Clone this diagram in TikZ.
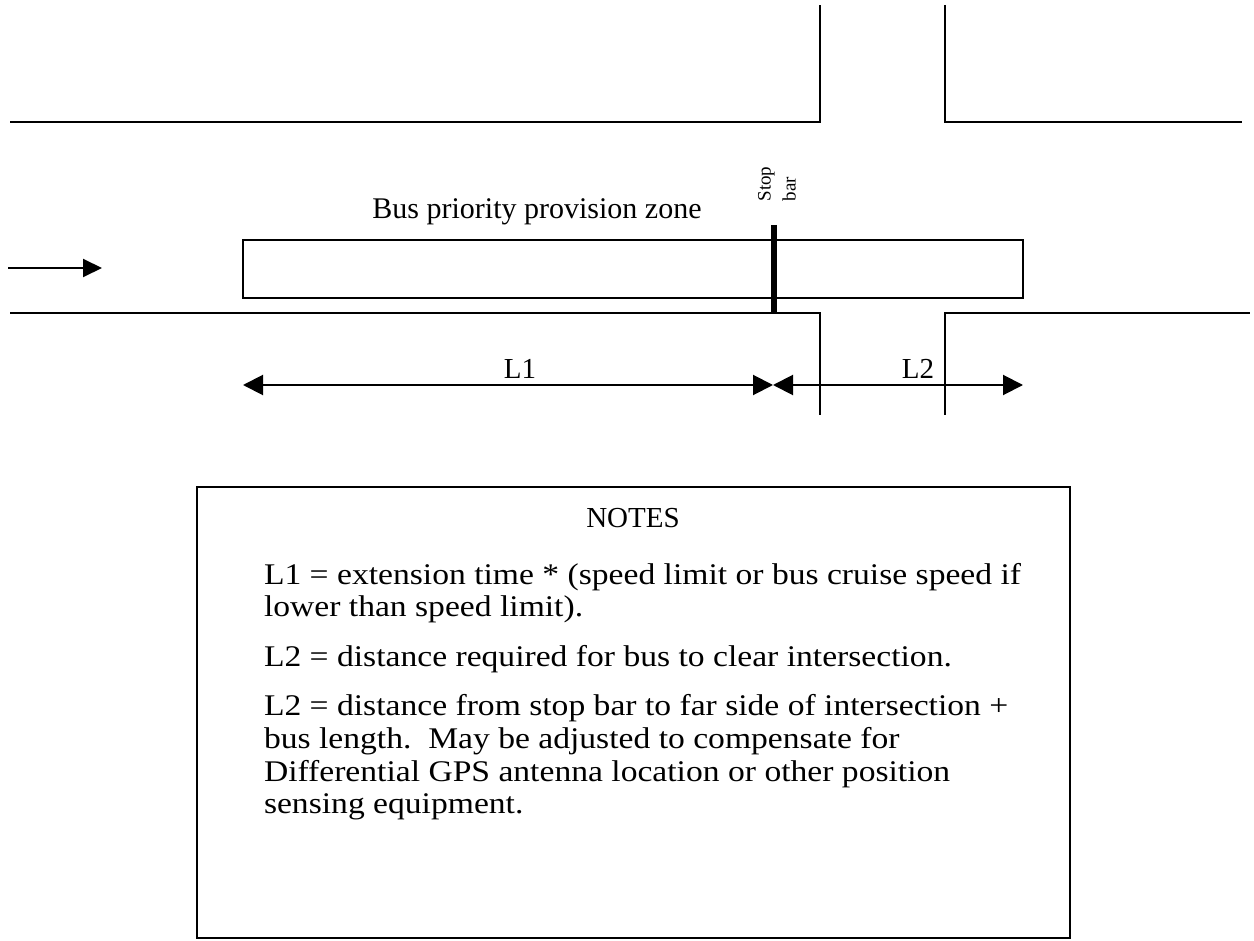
\documentclass[tikz,border=0pt]{standalone}
\usepackage{fontspec}
\setmainfont{Liberation Serif}
\newfontfamily\wideserif[FakeStretch=1.12]{Liberation Serif}
\usetikzlibrary{arrows.meta}
\definecolor{planink}{HTML}{000000}
\definecolor{planpaper}{HTML}{FFFFFF}
\newcommand{\plantext}{\fontsize{14.5}{16}\selectfont}
\newcommand{\notestext}{\wideserif\fontsize{15}{16.3}\selectfont}
\newcommand{\bartext}{\fontsize{9.5}{12.5}\selectfont}

\begin{document}
\begin{tikzpicture}[x=0.5pt,y=-0.5pt,font=\plantext,line width=1pt,color=planink]
\fill[planpaper] (0,0) rectangle (1254,941);
\useasboundingbox (0,0) rectangle (1254,941);

% kerb lines of the two roads
\draw (10,122) -- (820,122) -- (820,5);
\draw (945,5) -- (945,122) -- (1242,122);
\draw (10,313) -- (820,313) -- (820,415);
\draw (945,415) -- (945,313) -- (1250,313);

\coordinate (flowstart) at (8,268);
\coordinate (flowend) at (102,268);
\draw[-{Triangle[length=9.5pt,width=9pt]}] (flowstart) -- (flowend);

\node[draw,minimum width=390pt,minimum height=29pt,inner sep=0pt] (zone) at (633,269) {};
\node[anchor=base,inner sep=0pt,font=\fontsize{15}{16}\selectfont] (zonelabel) at (537,219) {Bus priority provision zone};

\coordinate (bartop) at (774,225);
\coordinate (barfoot) at (774,313);
\draw[line width=3pt] (bartop) -- (barfoot);
\node[rotate=90,align=left,font=\bartext,inner sep=0pt] (barlabel) at (777,184) {Stop\\bar};

% dimension lines
\coordinate (l1start) at (243,385);
\coordinate (stopdim) at (773,385);
\coordinate (l2end) at (1023,385);
\draw[{Triangle[length=10pt,width=10pt]}-{Triangle[length=10pt,width=10pt]}] (l1start) -- (stopdim);
\draw[{Triangle[length=10pt,width=10pt]}-{Triangle[length=10pt,width=10pt]}] (stopdim) -- (l2end);
\node[anchor=base,inner sep=0pt] (l1label) at (520,379) {L1};
\node[anchor=base,inner sep=0pt] (l2label) at (918,379) {L2};

% notes panel
\node[draw,minimum width=436.5pt,minimum height=225.5pt,inner sep=0pt] (notesbox) at (633.5,712.5) {};
\node[anchor=base,inner sep=0pt] (notestitle) at (633,527) {NOTES};
\node[anchor=north west,align=left,inner sep=0pt,font=\notestext] (notesbody) at (263,562) {L1 = extension time * (speed limit or bus cruise speed if\\
lower than speed limit).\\[8.5pt]
L2 = distance required for bus to clear intersection.\\[8.5pt]
L2 = distance from stop bar to far side of intersection +\\
bus length.\ \ May be adjusted to compensate for\\
Differential GPS antenna location or other position\\
sensing equipment.};
\end{tikzpicture}
\end{document}
